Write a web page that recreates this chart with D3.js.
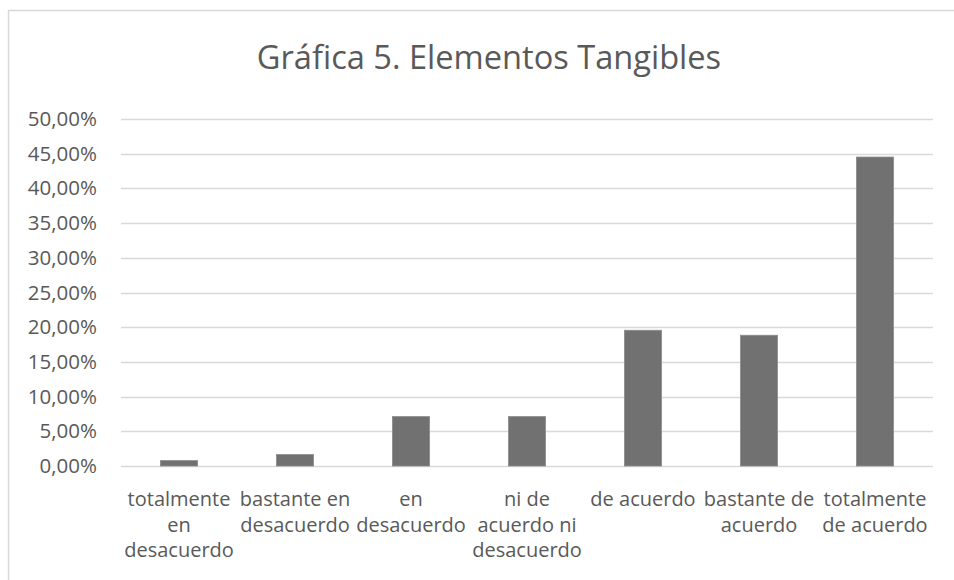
<!DOCTYPE html>
<html>
<head>
<meta charset="utf-8">
<script src="https://cdn.jsdelivr.net/npm/d3@7"></script>
<style>
  html, body { margin: 0; padding: 0; background: #ffffff; }
  svg { display: block; }
  text { font-family: "Open Sans", "Noto Sans", sans-serif; fill: #595959; }
</style>
</head>
<body>
<svg id="chart" width="954" height="580"></svg>
<script>
// Survey answer categories (label lines as wrapped under each bar)
const categories = [
  "totalmente\nen\ndesacuerdo",
  "bastante en\ndesacuerdo",
  "en\ndesacuerdo",
  "ni de\nacuerdo ni\ndesacuerdo",
  "de acuerdo",
  "bastante de\nacuerdo",
  "totalmente\nde acuerdo"
];
// Share of responses per category
const values = [0.0078, 0.0165, 0.0712, 0.0712, 0.1956, 0.1884, 0.4452];
// Y axis ticks
const yTicks = [0, 0.05, 0.10, 0.15, 0.20, 0.25, 0.30, 0.35, 0.40, 0.45, 0.50];
const title = "Gráfica 5. Elementos Tangibles";

const svg = d3.select("#chart");
const W = 954, H = 580;
const plot = { left: 121, right: 933, top: 119, bottom: 466 };

// Chart area frame (runs off the right and bottom edges)
svg.append("rect")
  .attr("x", 8.5).attr("y", 10.5)
  .attr("width", W + 10).attr("height", H + 10)
  .attr("fill", "#ffffff")
  .attr("stroke", "#d9d9d9")
  .attr("stroke-width", 1.5);

const x = d3.scaleBand()
  .domain(categories)
  .range([plot.left, plot.right])
  .paddingInner(0.68)
  .paddingOuter(0.34);

const y = d3.scaleLinear()
  .domain([0, 0.5])
  .range([plot.bottom, plot.top]);

const fmt = v => (v * 100).toFixed(2).replace(".", ",") + "%";

// Horizontal gridlines
svg.append("g")
  .selectAll("line")
  .data(yTicks)
  .join("line")
  .attr("x1", plot.left).attr("x2", plot.right)
  .attr("y1", d => Math.round(y(d)) + 0.5)
  .attr("y2", d => Math.round(y(d)) + 0.5)
  .attr("stroke", "#d9d9d9")
  .attr("stroke-width", 1.5);

// Y axis labels
const yAxis = d3.axisLeft(y).tickValues(yTicks).tickFormat(fmt).tickSize(0).tickPadding(0);
const gy = svg.append("g")
  .attr("transform", `translate(97,0)`)
  .call(yAxis);
gy.select(".domain").remove();
gy.selectAll("text")
  .attr("font-size", 20.5)
  .attr("fill", "#595959")
  .attr("font-family", "\"Open Sans\", sans-serif");

// Bars
svg.append("g")
  .selectAll("rect")
  .data(values)
  .join("rect")
  .attr("x", (d, i) => x(categories[i]))
  .attr("y", d => y(d))
  .attr("width", x.bandwidth())
  .attr("height", d => y(0) - y(d))
  .attr("fill", "#717171")
  .attr("stroke", "#8c8c8c")
  .attr("stroke-width", 0.8);

// Category labels, one tspan per line
const cat = svg.append("g")
  .selectAll("text")
  .data(categories)
  .join("text")
  .attr("text-anchor", "middle")
  .attr("font-size", 20)
  .attr("transform", d => `translate(${x(d) + x.bandwidth() / 2},506)`);
cat.selectAll("tspan")
  .data(d => d.split("\n"))
  .join("tspan")
  .attr("x", 0)
  .attr("y", (d, i) => i * 25.5)
  .text(d => d);

// Title
svg.append("text")
  .attr("x", 489)
  .attr("y", 69)
  .attr("text-anchor", "middle")
  .attr("font-size", 32.6)
  .text(title);
</script>
</body>
</html>
